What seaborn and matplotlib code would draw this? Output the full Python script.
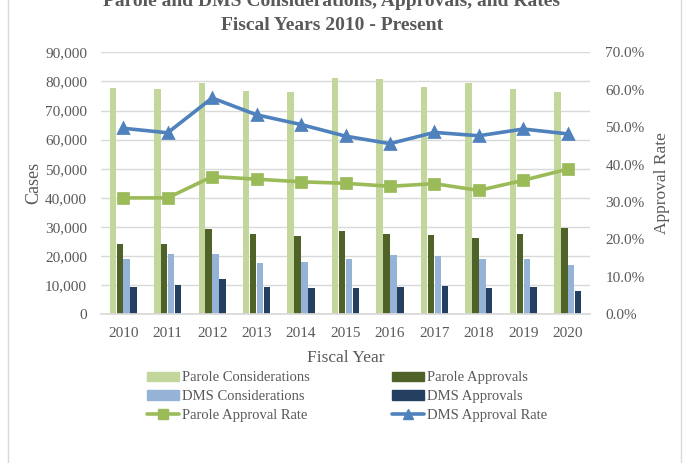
import numpy as np
import pandas as pd
import matplotlib
matplotlib.use("Agg")
import matplotlib.pyplot as plt
from matplotlib.patches import Patch
from matplotlib.lines import Line2D
from matplotlib.ticker import PercentFormatter, FuncFormatter
import seaborn as sns

# data
years = ["2010", "2011", "2012", "2013", "2014", "2015", "2016", "2017", "2018", "2019", "2020"]
parole_considerations = [77600, 77400, 79600, 76600, 76300, 81200, 80800, 78100, 79600, 77400, 76400]
parole_approvals = [24150, 24150, 29300, 27700, 27000, 28500, 27600, 27400, 26300, 27600, 29650]
dms_considerations = [18900, 20800, 20800, 17700, 18000, 18900, 20400, 20000, 19000, 18900, 16800]
dms_approvals = [9400, 10100, 12100, 9500, 9100, 9000, 9300, 9700, 9000, 9300, 8000]
parole_rate = [0.311, 0.311, 0.368, 0.361, 0.354, 0.350, 0.342, 0.349, 0.331, 0.358, 0.388]
dms_rate = [0.497, 0.485, 0.578, 0.533, 0.507, 0.476, 0.456, 0.486, 0.477, 0.495, 0.482]

bar_names = ["Parole Considerations", "Parole Approvals", "DMS Considerations", "DMS Approvals"]
bar_colors = ["#C3D69B", "#4F6228", "#95B3D7", "#243F60"]
rate_names = ["Parole Approval Rate", "DMS Approval Rate"]
rate_colors = ["#9BBB59", "#4F81BD"]

bars = pd.DataFrame({
    "Year": years * 4,
    "Series": np.repeat(bar_names, len(years)),
    "Cases": parole_considerations + parole_approvals + dms_considerations + dms_approvals,
})
rates = pd.DataFrame({
    "Year": years * 2,
    "Series": np.repeat(rate_names, len(years)),
    "Rate": parole_rate + dms_rate,
})

sns.set_theme(style="white")
plt.rcParams["font.family"] = ["Liberation Serif", "DejaVu Serif"]
grey = "#595959"

fig = plt.figure(figsize=(6.84, 4.63), dpi=100)
ax = fig.add_axes([101 / 684, 1 - 314.3 / 463, 489 / 684, 262 / 463])

sns.barplot(data=bars, x="Year", y="Cases", hue="Series", hue_order=bar_names,
            palette=bar_colors, width=0.62, gap=0.06, linewidth=0, saturation=1,
            legend=False, ax=ax)
ax.set_ylim(0, 90000)
ax.set_yticks(np.arange(0, 90001, 10000))
ax.yaxis.set_major_formatter(FuncFormatter(lambda v, p: f"{int(v):,}"))
ax.grid(axis="y", color="#D9D9D9", linewidth=1)
ax.set_axisbelow(True)
for s in ["top", "left", "right"]:
    ax.spines[s].set_visible(False)
ax.spines["bottom"].set_color("#D9D9D9")
ax.tick_params(axis="both", length=0, labelsize=11, colors=grey)
ax.tick_params(axis="y", pad=10)
ax.tick_params(axis="x", pad=9)
ax.set_xlabel("Fiscal Year", fontsize=12.5, color=grey, labelpad=7)
ax.set_ylabel("Cases", fontsize=13, color=grey)
ax.yaxis.set_label_coords(-59 / 489, 0.5)

ax2 = ax.twinx()
sns.pointplot(data=rates, x="Year", y="Rate", hue="Series", hue_order=rate_names,
              palette=rate_colors, markers=["s", "^"], linestyles="-",
              errorbar=None, legend=False, ax=ax2, markersize=7, linewidth=2.6)
ax2.set_ylim(0, 0.7)
ax2.set_yticks(np.arange(0, 0.701, 0.1))
ax2.yaxis.set_major_formatter(PercentFormatter(1.0, decimals=1))
for s in ["top", "left", "right", "bottom"]:
    ax2.spines[s].set_visible(False)
ax2.tick_params(axis="y", length=0, labelsize=11, colors=grey, pad=11)
ax2.set_ylabel("Approval Rate", fontsize=12.5, color=grey, labelpad=7)
ax2.grid(False)

# title (upper line partly outside the frame, as in the source)
fig.text(0.485, 1 - 1 / 463, "Parole and DMS Considerations, Approvals, and Rates",
         ha="center", va="center", fontsize=14, fontweight="bold", color=grey)
fig.text(0.486, 1 - 25 / 463, "Fiscal Years 2010 - Present",
         ha="center", va="center", fontsize=14, fontweight="bold", color=grey)

# chart border
fig.add_artist(Line2D([8 / 684, 8 / 684], [0, 1], color="#D9D9D9", linewidth=1))
fig.add_artist(Line2D([681 / 684, 681 / 684], [0, 1], color="#D9D9D9", linewidth=1))

handles = [
    Patch(color=bar_colors[0]), Patch(color=bar_colors[2]),
    Line2D([], [], color=rate_colors[0], marker="s", markersize=7, linewidth=2.6),
    Patch(color=bar_colors[1]), Patch(color=bar_colors[3]),
    Line2D([], [], color=rate_colors[1], marker="^", markersize=7, linewidth=2.6),
]
labels = [bar_names[0], bar_names[2], rate_names[0], bar_names[1], bar_names[3], rate_names[1]]
leg = fig.legend(handles, labels, ncol=2, loc="upper left",
                 bbox_to_anchor=(140 / 684, 1 - 364 / 463), frameon=False,
                 fontsize=10.5, handlelength=2.2, handleheight=0.6, handletextpad=0.2,
                 labelspacing=0.4, columnspacing=5.6, borderpad=0)
for t in leg.get_texts():
    t.set_color(grey)

fig.savefig("out.png", dpi=100)
